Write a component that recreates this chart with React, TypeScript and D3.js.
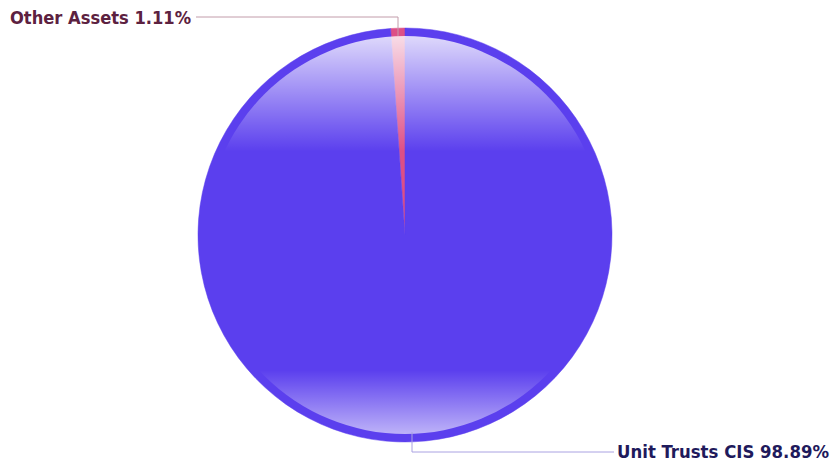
import React from "react";
import * as d3 from "d3";

const categories = ["Other Assets", "Unit Trusts CIS"];
const values = [1.11, 98.89];
const colors = ["#dd4f86", "#5b3fee"];
const textColors = ["#5c2140", "#1f1a5c"];

const W = 832;
const H = 460;
const cx = 405;
const cy = 235;
const R = 207;

export default function App() {
  const pie = d3
    .pie<number>()
    .sort(null)
    .value((d) => d)
    .startAngle(-2 * Math.PI * (values[0] / 100))
    .endAngle(2 * Math.PI - 2 * Math.PI * (values[0] / 100));
  const arcs = pie(values);
  const arcGen = d3.arc<d3.PieArcDatum<number>>().innerRadius(0).outerRadius(R);
  const rIn = R - 8;
  const font = { fontFamily: "'DejaVu Sans Condensed', 'DejaVu Sans'", fontWeight: "bold", fontSize: 18.5 } as const;
  return (
    <svg width={W} height={H} style={{ position: "absolute", left: 0, top: 0 }}>
      <defs>
        <linearGradient id="gloss" x1="0" y1="0" x2="0" y2="1">
          <stop offset="0" stopColor="#ffffff" stopOpacity="0.8" />
          <stop offset="0.29" stopColor="#ffffff" stopOpacity="0" />
          <stop offset="0.84" stopColor="#ffffff" stopOpacity="0" />
          <stop offset="1" stopColor="#ffffff" stopOpacity="0.6" />
        </linearGradient>
      </defs>
      <g transform={`translate(${cx},${cy})`}>
        {arcs.map((a, i) => (
          <path key={i} d={arcGen(a) || ""} fill={colors[i]} stroke={colors[i]} strokeWidth={0.5} />
        ))}
        <circle r={rIn} fill="url(#gloss)" />
      </g>
      <polyline points={`196,17 398,17 398,36`} fill="none" stroke="#c29caa" strokeWidth={1} />
      <polyline points={`412,432 412,452 614,452`} fill="none" stroke="#aaa2e2" strokeWidth={1} />
      <text x={10} y={24} fill={textColors[0]} style={font} textLength={181} lengthAdjust="spacingAndGlyphs">
        {`${categories[0]} ${values[0].toFixed(2)}%`}
      </text>
      <text x={617} y={457.5} fill={textColors[1]} style={font} textLength={212} lengthAdjust="spacingAndGlyphs">
        {`${categories[1]} ${values[1].toFixed(2)}%`}
      </text>
    </svg>
  );
}
